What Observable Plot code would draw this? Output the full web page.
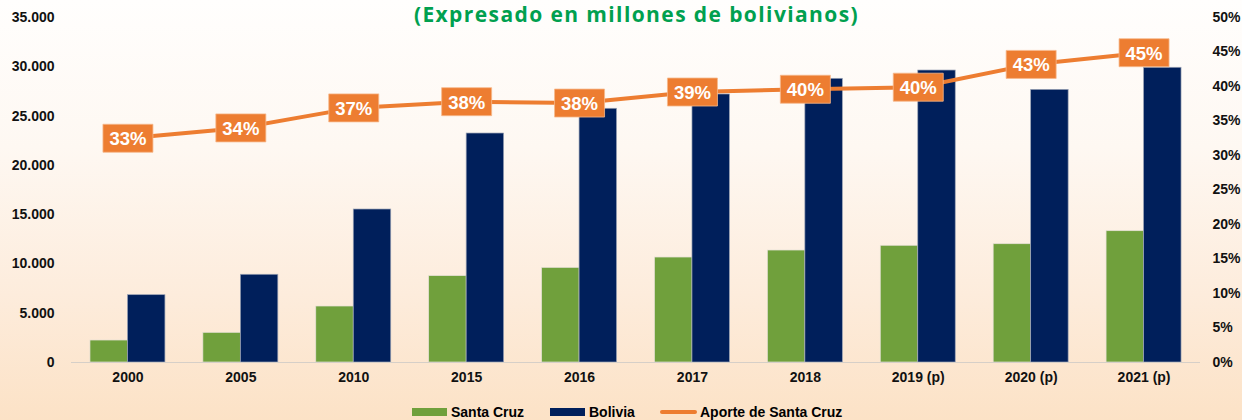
<!DOCTYPE html>
<html>
<head>
<meta charset="utf-8">
<script src="https://cdn.jsdelivr.net/npm/d3@7"></script>
<script src="https://cdn.jsdelivr.net/npm/@observablehq/plot@0.6"></script>
<style>
  html, body { margin: 0; padding: 0; }
  body { width: 1242px; height: 420px; overflow: hidden;
    background: linear-gradient(to bottom, #fffefd 0%, #fef8f2 35%, #fdecdc 70%, #fce2c6 100%); }
  #wrap { position: relative; width: 1242px; height: 420px; }
  #title { position: absolute; left: 0; width: 1273px; top: 0; line-height: normal; text-align: center; white-space: nowrap;
    font-family: "Open Sans", sans-serif; font-weight: 700; font-size: 21px; color: #00A04F; letter-spacing: 1.4px; }
  #chart { position: absolute; left: 0; top: 0; }
  .leg { position: absolute; top: 403px; font-family: "Liberation Sans", Arial, sans-serif; font-weight: 700; font-size: 14px; color: #000; display: flex; align-items: center; height: 18px; }
  .sw { display: inline-block; width: 35px; height: 8px; margin-right: 4px; }
  .ln { display: inline-block; width: 37px; height: 4px; border-radius: 2px; margin-right: 3px; }
</style>
</head>
<body>
<div id="wrap">
  <div id="chart"></div>
  <div id="title">(Expresado en millones de bolivianos)</div>
  <div class="leg" style="left:412px"><span class="sw" style="background:#70A03C"></span>Santa Cruz</div>
  <div class="leg" style="left:550px"><span class="sw" style="background:#001F5B"></span>Bolivia</div>
  <div class="leg" style="left:660px"><span class="ln" style="background:#ED7D31"></span>Aporte de Santa Cruz</div>
</div>
<script>
const years = ["2000", "2005", "2010", "2015", "2016", "2017", "2018", "2019 (p)", "2020 (p)", "2021 (p)"];
const santaCruz = [2230, 3010, 5680, 8760, 9600, 10650, 11360, 11840, 12000, 13320];
const bolivia = [6830, 8900, 15520, 23230, 25740, 27190, 28780, 29620, 27660, 29900];
const aporte = [0.325, 0.340, 0.369, 0.378, 0.376, 0.392, 0.396, 0.399, 0.432, 0.449];
const leftTicks = [0, 5000, 10000, 15000, 20000, 25000, 30000, 35000];
const rightTicks = [0, 0.05, 0.10, 0.15, 0.20, 0.25, 0.30, 0.35, 0.40, 0.45, 0.50];

const yMax = 35000;
const pctMax = 0.5;
const toY = p => p * yMax / pctMax;

const data = years.map((year, i) => ({year, sc: santaCruz[i], bo: bolivia[i], pct: aporte[i], py: toY(aporte[i])}));

const GREEN = "#70A03C", NAVY = "#001F5B", ORANGE = "#ED7D31";
const FONT = "Liberation Sans, Arial, sans-serif";
const half = 37.5;

const rectSymbol = { draw(ctx) { ctx.rect(-25, -14, 50, 28); } };

const chart = Plot.plot({
  width: 1242,
  height: 395,
  marginLeft: 71,
  marginRight: 42,
  marginTop: 17,
  marginBottom: 33,
  style: { background: "transparent", fontFamily: FONT, overflow: "visible" },
  x: { domain: years, paddingInner: 0.336, paddingOuter: 0.168, round: false, label: null },
  y: { domain: [0, yMax], label: null },
  marks: [
    Plot.barY(data, { x: "year", y: "sc", fill: GREEN, insetRight: half, stroke: "#e6e0d6", strokeWidth: 0.7 }),
    Plot.barY(data, { x: "year", y: "bo", fill: NAVY, insetLeft: half, stroke: "#9aa3b5", strokeWidth: 0.7 }),
    Plot.ruleY([0], { stroke: "#d6cfc8", strokeWidth: 1.2 }),
    Plot.axisX({ tickSize: 0, tickPadding: 10, fontSize: 14, fontWeight: "bold", fill: "#111", label: null }),
    Plot.axisY(leftTicks, { anchor: "left", tickSize: 0, tickPadding: 17, fontSize: 14, fontWeight: "bold", fill: "#111",
      tickFormat: d => d3.format(",")(d).replace(/,/g, "."), label: null }),
    Plot.axisY(rightTicks.map(toY), { anchor: "right", tickSize: 0, tickPadding: 12, fontSize: 14, fontWeight: "bold", fill: "#111",
      textAnchor: "start", tickFormat: d => Math.round(d / yMax * pctMax * 100) + "%", label: null }),
    Plot.line(data, { x: "year", y: "py", stroke: ORANGE, strokeWidth: 4 }),
    Plot.dot(data, { x: "year", y: "py", symbol: rectSymbol, fill: ORANGE, stroke: "#f6b98c", strokeWidth: 0.8, r: 10 }),
    Plot.text(data, { x: "year", y: "py", text: d => d3.format(".0%")(d.pct), fill: "white", fontSize: 18.5, fontWeight: "bold", fontFamily: FONT, dy: 1 })
  ]
});
document.getElementById("chart").appendChild(chart);
</script>
</body>
</html>
